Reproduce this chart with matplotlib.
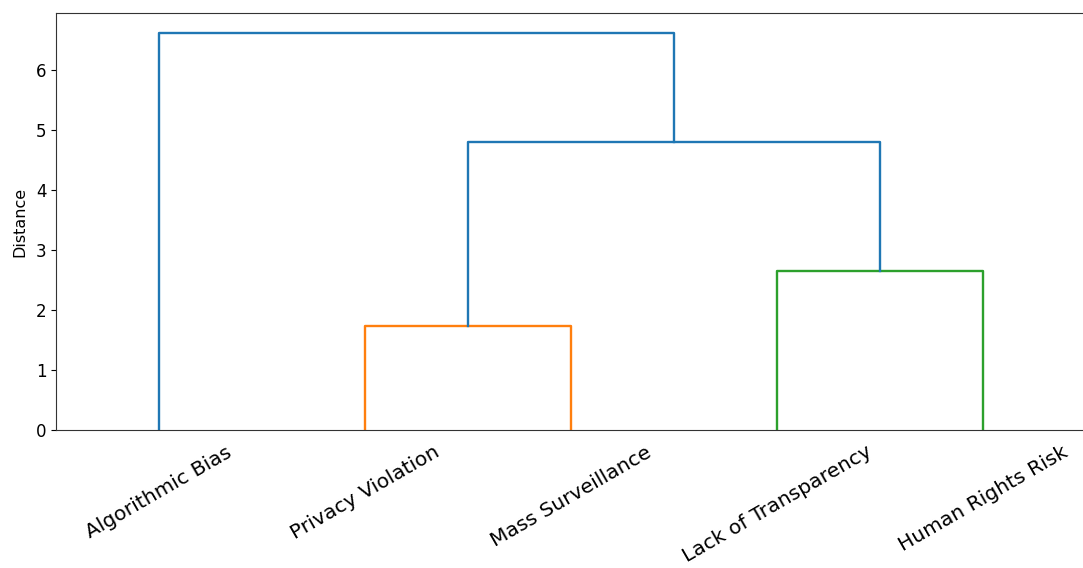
import numpy as np
import matplotlib.pyplot as plt

# risk categories in leaf order
labels = ["Algorithmic Bias", "Privacy Violation", "Mass Surveillance",
          "Lack of Transparency", "Human Rights Risk"]
# merges: (left id, right id, distance); ids >= 5 are earlier merges
merges = [(1, 2, 1.73), (3, 4, 2.65), (5, 6, 4.80), (0, 7, 6.62)]
merge_colors = ["C1", "C2", "C0", "C0"]

n = len(labels)
xpos = {i: 5 + 10 * i for i in range(n)}
ypos = {i: 0.0 for i in range(n)}

fig = plt.figure(figsize=(10.83, 5.68), dpi=100)
ax = fig.add_axes([56 / 1083, 138 / 568, 1030 / 1083, 417 / 568])

for k, (a, b, h) in enumerate(merges):
    xa, xb = xpos[a], xpos[b]
    ax.plot([xa, xa, xb, xb], [ypos[a], h, h, ypos[b]],
            color=merge_colors[k], lw=1.7)
    xpos[n + k] = (xa + xb) / 2
    ypos[n + k] = h

ax.set_xlim(0, 10 * n)
ax.set_ylim(0, max(m[2] for m in merges) * 1.05)
ax.set_xticks([5 + 10 * i for i in range(n)])
ax.set_xticklabels(labels, rotation=30, ha="center", fontsize=14.6)
ax.tick_params(axis="x", length=0, pad=9)
ax.tick_params(axis="y", labelsize=12)
ax.set_ylabel("Distance", fontsize=11.5, labelpad=6)
for s in ax.spines.values():
    s.set_color("#333333")

fig.savefig("out.png", dpi=100)
